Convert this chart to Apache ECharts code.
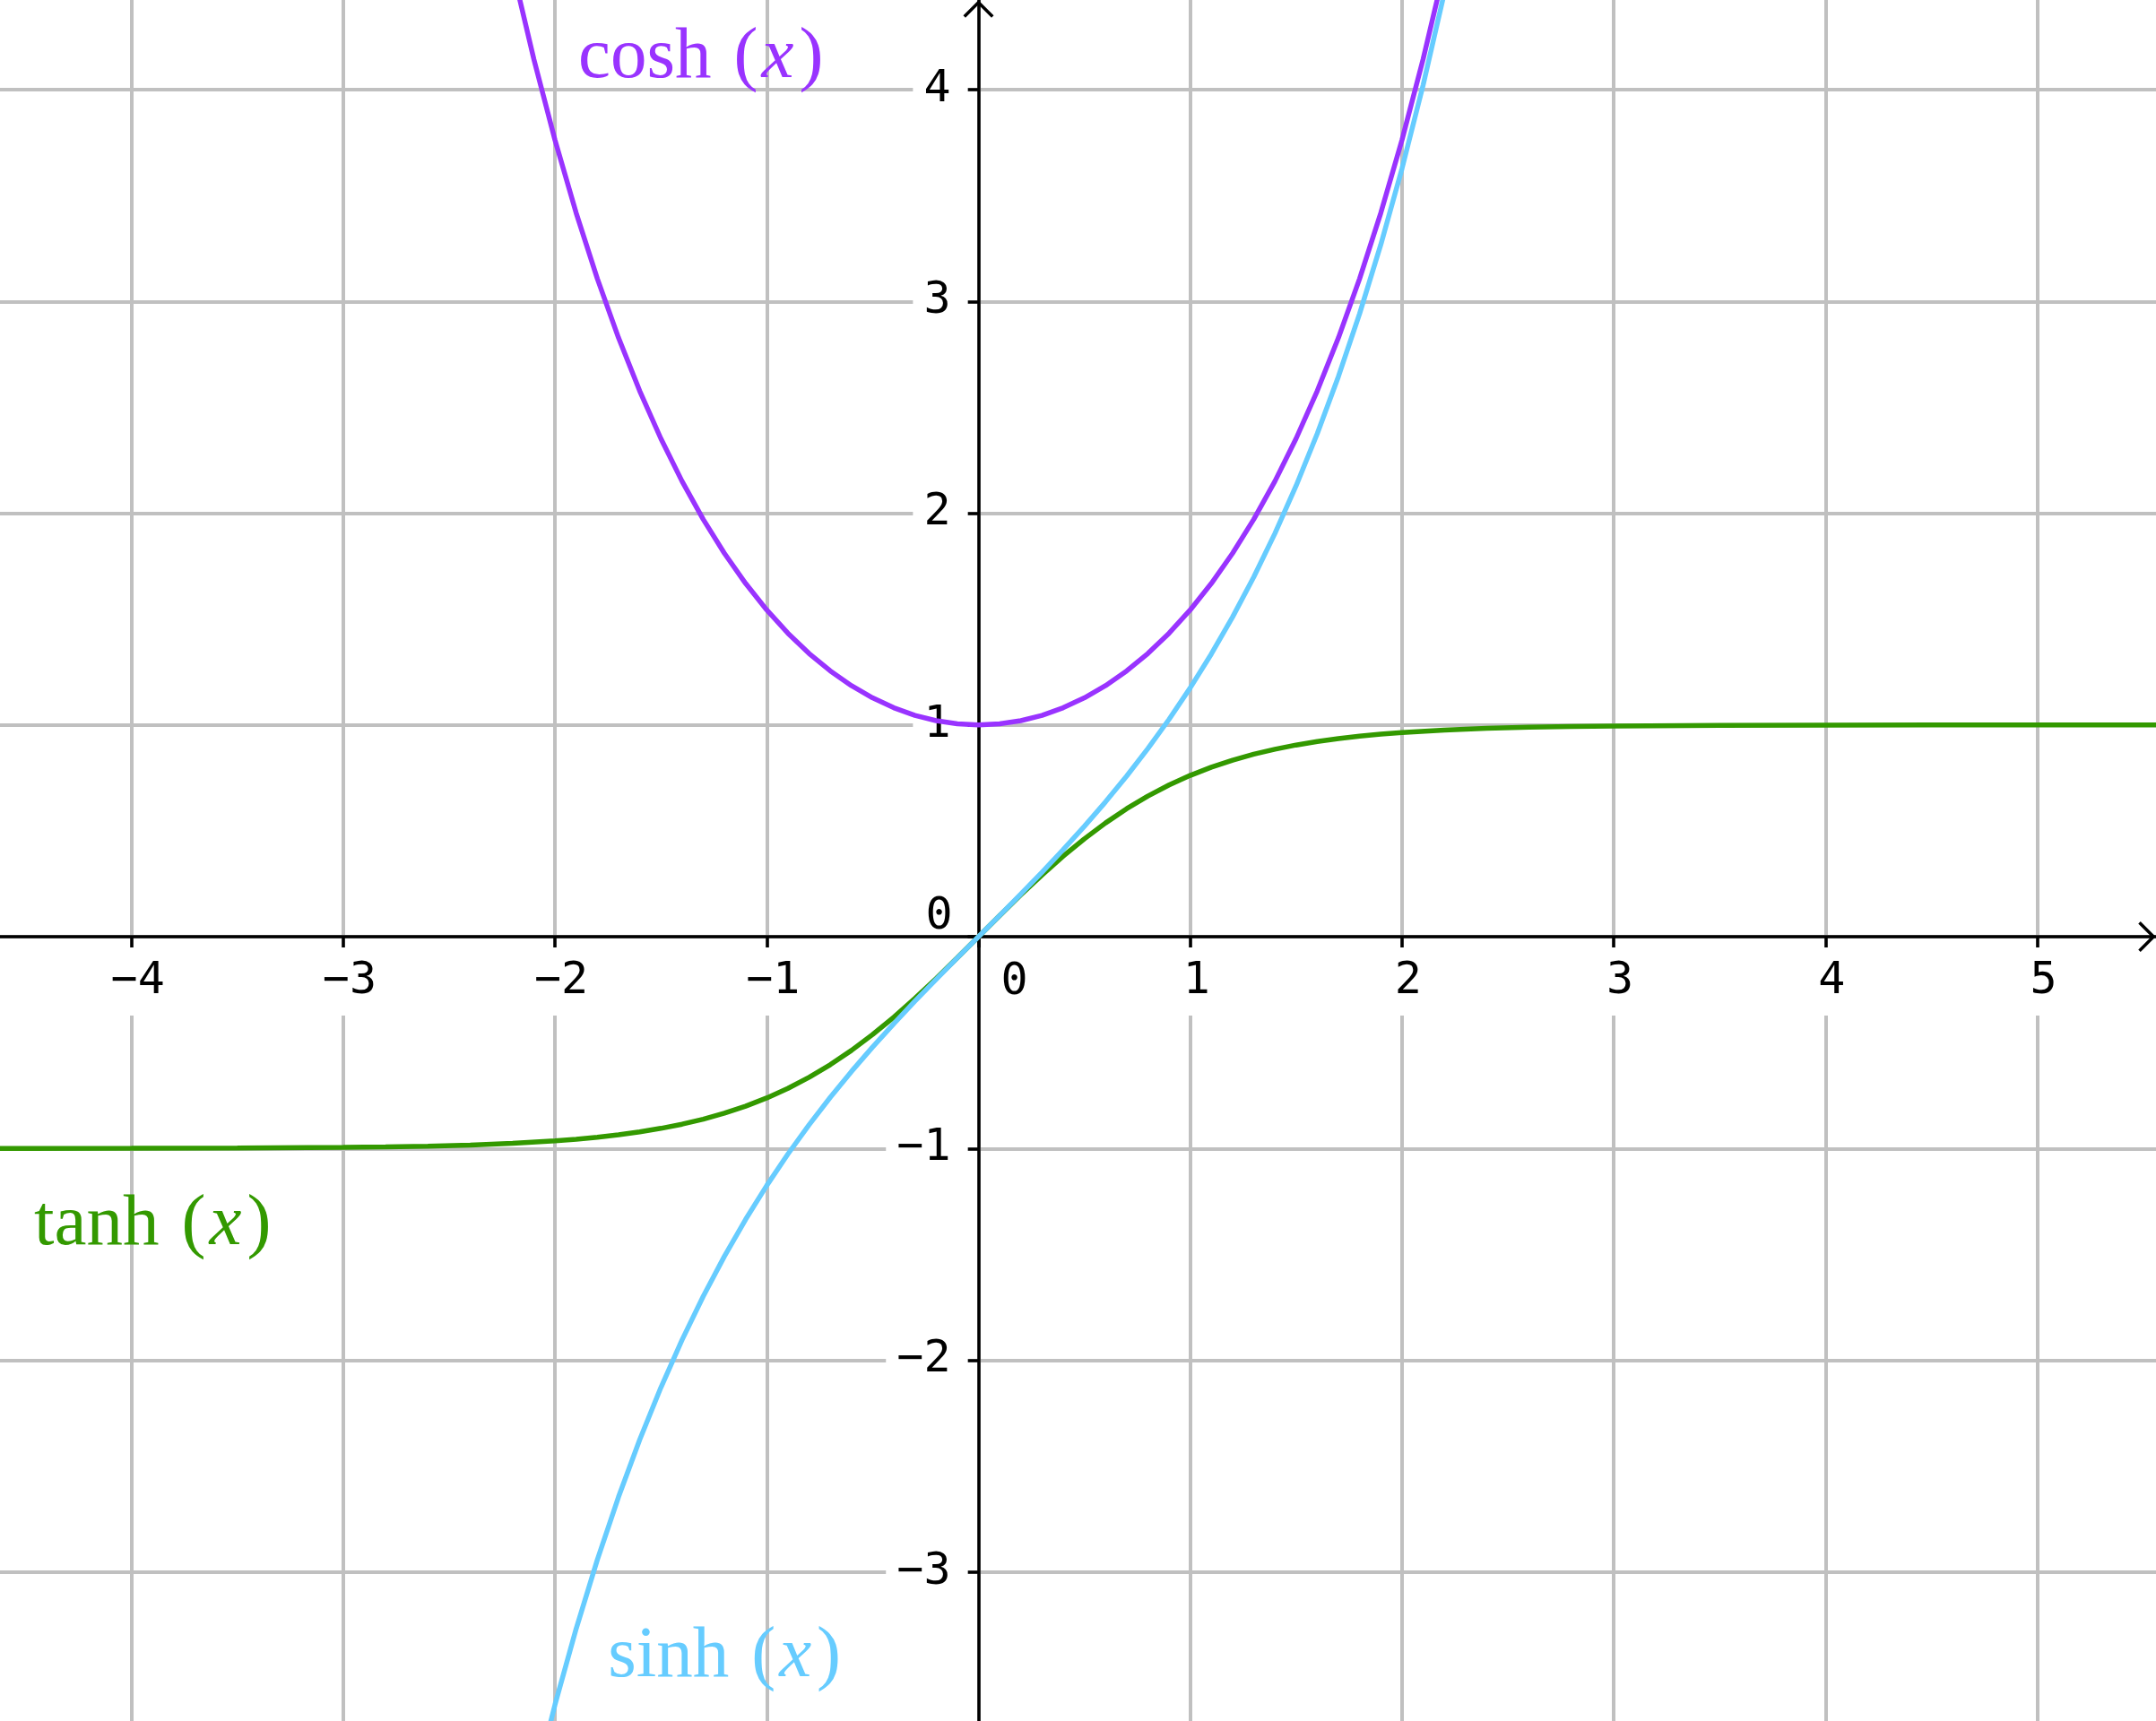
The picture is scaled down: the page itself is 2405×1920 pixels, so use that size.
<!DOCTYPE html>
<html>
<head>
<meta charset="utf-8">
<script src="https://cdn.jsdelivr.net/npm/echarts@6/dist/echarts.min.js"></script>
<style>
html,body{margin:0;padding:0;background:#fff;}
#chart{width:2405px;height:1920px;}
</style>
</head>
<body>
<div id="chart"></div>
<script>
// Tick labels
const xTicks = [-4, -3, -2, -1, 0, 1, 2, 3, 4, 5];
const yTicks = [-3, -2, -1, 0, 1, 2, 3, 4];

// cosh / sinh sample points
const hypX = [-2.3, -2.2, -2.1, -2.0, -1.9, -1.8, -1.7, -1.6, -1.5, -1.4, -1.3, -1.2, -1.1, -1.0, -0.9, -0.8, -0.7, -0.6, -0.5, -0.4, -0.3, -0.2, -0.1, 0,
  0.1, 0.2, 0.3, 0.4, 0.5, 0.6, 0.7, 0.8, 0.9, 1.0, 1.1, 1.2, 1.3, 1.4, 1.5, 1.6, 1.7, 1.8, 1.9, 2.0, 2.1, 2.2, 2.3];
const coshY = [5.0372, 4.5679, 4.1443, 3.7622, 3.4177, 3.1075, 2.8283, 2.5775, 2.3524, 2.1509, 1.9709, 1.8107, 1.6685, 1.5431, 1.4331, 1.3374, 1.2552, 1.1855, 1.1276, 1.0811, 1.0453, 1.0201, 1.0050, 1.0000,
  1.0050, 1.0201, 1.0453, 1.0811, 1.1276, 1.1855, 1.2552, 1.3374, 1.4331, 1.5431, 1.6685, 1.8107, 1.9709, 2.1509, 2.3524, 2.5775, 2.8283, 3.1075, 3.4177, 3.7622, 4.1443, 4.5679, 5.0372];
const sinhY = [-4.9370, -4.4571, -4.0219, -3.6269, -3.2682, -2.9422, -2.6456, -2.3756, -2.1293, -1.9043, -1.6984, -1.5095, -1.3356, -1.1752, -1.0265, -0.8881, -0.7586, -0.6367, -0.5211, -0.4108, -0.3045, -0.2013, -0.1002, 0,
  0.1002, 0.2013, 0.3045, 0.4108, 0.5211, 0.6367, 0.7586, 0.8881, 1.0265, 1.1752, 1.3356, 1.5095, 1.6984, 1.9043, 2.1293, 2.3756, 2.6456, 2.9422, 3.2682, 3.6269, 4.0219, 4.4571, 4.9370];

// tanh sample points
const tanhX = [-4.7, -4.5, -4.0, -3.5, -3.0, -2.8, -2.6, -2.4, -2.2, -2.0, -1.9, -1.8, -1.7, -1.6, -1.5, -1.4, -1.3, -1.2, -1.1, -1.0, -0.9, -0.8, -0.7, -0.6, -0.5, -0.4, -0.3, -0.2, -0.1, 0,
  0.1, 0.2, 0.3, 0.4, 0.5, 0.6, 0.7, 0.8, 0.9, 1.0, 1.1, 1.2, 1.3, 1.4, 1.5, 1.6, 1.7, 1.8, 1.9, 2.0, 2.2, 2.4, 2.6, 2.8, 3.0, 3.5, 4.0, 4.5, 5.0, 5.7];
const tanhY = [-0.9998, -0.9998, -0.9993, -0.9982, -0.9951, -0.9926, -0.9890, -0.9837, -0.9757, -0.9640, -0.9562, -0.9468, -0.9354, -0.9217, -0.9051, -0.8854, -0.8617, -0.8337, -0.8005, -0.7616, -0.7163, -0.6640, -0.6044, -0.5370, -0.4621, -0.3800, -0.2913, -0.1974, -0.0997, 0,
  0.0997, 0.1974, 0.2913, 0.3800, 0.4621, 0.5370, 0.6044, 0.6640, 0.7163, 0.7616, 0.8005, 0.8337, 0.8617, 0.8854, 0.9051, 0.9217, 0.9354, 0.9468, 0.9562, 0.9640, 0.9757, 0.9837, 0.9890, 0.9926, 0.9951, 0.9982, 0.9993, 0.9998, 0.9999, 1.0000];

const pair = (xs, ys) => xs.map((x, i) => [x, ys[i]]);
const fmt = v => (v < 0 ? '\u2212' + Math.abs(v) : String(v));

const MONO = '"DejaVu Sans Mono", monospace';
const SERIF = '"Liberation Serif", "Times New Roman", serif';
const arrowPath = 'path://M0,17 L17,0 L34,17 L31.5,19.5 L17,5 L2.5,19.5 Z';

const axisLineCommon = {
  onZero: false,
  lineStyle: { color: '#000', width: 3.5 },
  symbol: ['none', arrowPath],
  symbolSize: [34, 19.5],
  symbolOffset: [0, -10]
};
const splitCommon = { show: true, lineStyle: { color: '#c0c0c0', width: 4 } };
const tickCommon = { show: true, length: 12, lineStyle: { color: '#000', width: 3.5 } };

function fnLabel(name, color) {
  return {
    show: true,
    position: 'inside',
    align: 'left',
    verticalAlign: 'middle',
    formatter: '{a|' + name + '}{s| }{a|(}{b|x}{a|)}',
    rich: {
      a: { fontFamily: SERIF, fontSize: 81, color: color },
      s: { fontFamily: SERIF, fontSize: 100, color: color },
      b: { fontFamily: SERIF, fontSize: 81, fontStyle: 'italic', color: color, padding: [0, 6, 0, 4] }
    }
  };
}
const hiddenSym = { symbol: 'circle', symbolSize: 1, itemStyle: { color: 'rgba(0,0,0,0)' } };
const zeroLabel = (off) => ({ show: true, position: 'inside', formatter: '0', fontFamily: MONO, fontSize: 50, color: '#000', offset: off });

const chart = echarts.init(document.getElementById('chart'), null, { renderer: 'canvas' });
const option = {
  animation: false,
  backgroundColor: '#fff',
  grid: { left: 0, right: 0, top: 0, bottom: 0, containLabel: false, outerBoundsMode: 'none' },
  xAxis: {
    type: 'value', min: -4.621, max: 5.561, position: 'bottom', offset: 0,
    axisLine: axisLineCommon,
    axisTick: Object.assign({ customValues: xTicks }, tickCommon),
    axisLabel: {
      customValues: xTicks, margin: 12,
      formatter: v => (v === 0 ? '' : '{n|' + fmt(v) + '}'),
      rich: { n: { fontFamily: MONO, fontSize: 50, color: '#000', backgroundColor: '#fff', padding: [13, 12, 13, 26] } }
    },
    splitLine: splitCommon
  },
  yAxis: {
    type: 'value', min: -3.7037, max: 4.4233, position: 'left', offset: 0,
    axisLine: axisLineCommon,
    axisTick: Object.assign({ customValues: yTicks }, tickCommon),
    axisLabel: {
      customValues: yTicks, margin: 12,
      formatter: v => (v === 0 ? '' : '{n|' + fmt(v) + '}'),
      rich: { n: { fontFamily: MONO, fontSize: 50, color: '#000', backgroundColor: '#fff', padding: [4, 19, 4, 12] } }
    },
    splitLine: splitCommon
  },
  series: [
    {
      name: 'tanh', type: 'line', data: pair(tanhX, tanhY), showSymbol: false, symbol: 'none',
      lineStyle: { color: '#339900', width: 5.5 }, z: 3,
      markPoint: Object.assign({}, hiddenSym, {
        data: [
          { coord: [-4.46, -1.36], label: fnLabel('tanh', '#339900') },
          { coord: [0, 0], label: zeroLabel([40, 51]) },
          { coord: [0, 0], label: zeroLabel([-44, -22]) }
        ]
      })
    },
    {
      name: 'sinh', type: 'line', data: pair(hypX, sinhY), showSymbol: false, symbol: 'none',
      lineStyle: { color: '#66ccff', width: 5.5 }, z: 4,
      markPoint: Object.assign({}, hiddenSym, {
        data: [{ coord: [-1.75, -3.40], label: fnLabel('sinh', '#66ccff') }]
      })
    },
    {
      name: 'cosh', type: 'line', data: pair(hypX, coshY), showSymbol: false, symbol: 'none',
      lineStyle: { color: '#9933ff', width: 5.5 }, z: 5,
      markPoint: Object.assign({}, hiddenSym, {
        data: [{ coord: [-1.89, 4.15], label: fnLabel('cosh', '#9933ff') }]
      })
    }
  ]
};
chart.setOption(option);

// Move both axes onto the origin using the library's own scale.
const origin = chart.convertToPixel({ gridIndex: 0 }, [0, 0]);
const h = chart.getHeight();
chart.setOption({
  xAxis: { offset: -(h - origin[1]) },
  yAxis: { offset: -origin[0] }
});
</script>
</body>
</html>
